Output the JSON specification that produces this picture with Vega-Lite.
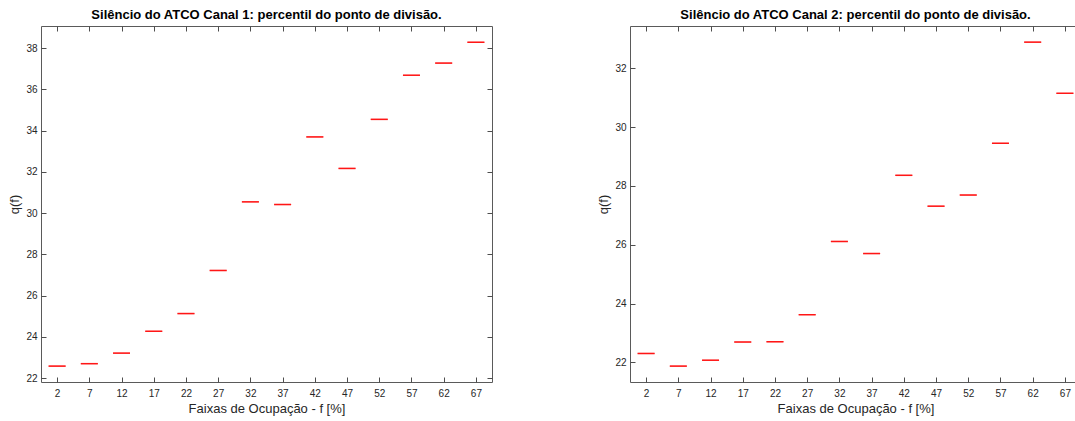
{
  "$schema": "https://vega.github.io/schema/vega-lite/v6.json",
  "padding": {"left": 8, "top": 8, "right": 0, "bottom": 0},
  "background": "white",
  "spacing": 138,
  "bounds": "flush",
  "config": {
    "view": {"stroke": "#5a5a5a", "strokeWidth": 1},
    "font": "Liberation Sans",
    "tick": {"color": "#ff0000", "size": 17, "thickness": 1.4, "orient": "horizontal"},
    "axis": {
      "domain": false,
      "grid": false,
      "tickSize": -5,
      "tickColor": "#4d4d4d",
      "tickWidth": 1,
      "labelFont": "Liberation Sans",
      "labelFontSize": 10,
      "labelColor": "#262626",
      "titleFont": "Liberation Sans",
      "titleFontSize": 13,
      "titleFontWeight": "normal",
      "titleColor": "#262626"
    },
    "title": {"font": "Liberation Sans", "fontSize": 13, "fontWeight": "bold", "color": "#000000", "anchor": "middle", "frame": "group", "offset": 4}
  },
  "datasets": {
    "c1": [
      {"f": 2, "q": 22.58}, {"f": 7, "q": 22.70}, {"f": 12, "q": 23.21}, {"f": 17, "q": 24.27},
      {"f": 22, "q": 25.13}, {"f": 27, "q": 27.22}, {"f": 32, "q": 30.55}, {"f": 37, "q": 30.42},
      {"f": 42, "q": 33.70}, {"f": 47, "q": 32.17}, {"f": 52, "q": 34.55}, {"f": 57, "q": 36.69},
      {"f": 62, "q": 37.28}, {"f": 67, "q": 38.29}
    ],
    "c2": [
      {"f": 2, "q": 22.30}, {"f": 7, "q": 21.87}, {"f": 12, "q": 22.07}, {"f": 17, "q": 22.69},
      {"f": 22, "q": 22.70}, {"f": 27, "q": 23.62}, {"f": 32, "q": 26.11}, {"f": 37, "q": 25.70},
      {"f": 42, "q": 28.36}, {"f": 47, "q": 27.31}, {"f": 52, "q": 27.69}, {"f": 57, "q": 29.45},
      {"f": 62, "q": 32.89}, {"f": 67, "q": 31.15}
    ]
  },
  "hconcat": [
    {
      "width": 451,
      "height": 356,
      "title": {"text": "Silêncio do ATCO Canal 1: percentil do ponto de divisão."},
      "data": {"name": "c1"},
      "layer": [
        {
          "mark": {"type": "tick", "color": "#ff0000"},
          "encoding": {
            "x": {"field": "f", "type": "ordinal", "scale": {"type": "point", "padding": 0.5}, "axis": {"orient": "bottom", "labelAngle": 0, "labelPadding": 11, "title": "Faixas de Ocupação - f [%]", "titlePadding": 4}},
            "y": {"field": "q", "type": "quantitative", "scale": {"domain": [21.81, 39.08], "nice": false, "zero": false}, "axis": {"orient": "left", "values": [22, 24, 26, 28, 30, 32, 34, 36, 38], "labelPadding": 9, "title": "q(f)", "titlePadding": 4}}
          }
        },
        {
          "mark": {"type": "tick", "color": "#ff0000"},
          "encoding": {
            "x": {"field": "f", "type": "ordinal", "scale": {"type": "point", "padding": 0.5}, "axis": {"orient": "top", "labels": false, "title": null}},
            "y": {"field": "q", "type": "quantitative", "axis": {"orient": "right", "values": [22, 24, 26, 28, 30, 32, 34, 36, 38], "labels": false, "title": null}}
          }
        }
      ],
      "resolve": {"axis": {"x": "independent", "y": "independent"}}
    },
    {
      "width": 451,
      "height": 356,
      "title": {"text": "Silêncio do ATCO Canal 2: percentil do ponto de divisão."},
      "data": {"name": "c2"},
      "layer": [
        {
          "mark": {"type": "tick", "color": "#ff0000"},
          "encoding": {
            "x": {"field": "f", "type": "ordinal", "scale": {"type": "point", "padding": 0.5}, "axis": {"orient": "bottom", "labelAngle": 0, "labelPadding": 11, "title": "Faixas de Ocupação - f [%]", "titlePadding": 4}},
            "y": {"field": "q", "type": "quantitative", "scale": {"domain": [21.33, 33.44], "nice": false, "zero": false}, "axis": {"orient": "left", "values": [22, 24, 26, 28, 30, 32], "labelPadding": 9, "title": "q(f)", "titlePadding": 4}}
          }
        },
        {
          "mark": {"type": "tick", "color": "#ff0000"},
          "encoding": {
            "x": {"field": "f", "type": "ordinal", "scale": {"type": "point", "padding": 0.5}, "axis": {"orient": "top", "labels": false, "title": null}},
            "y": {"field": "q", "type": "quantitative", "axis": {"orient": "right", "values": [22, 24, 26, 28, 30, 32], "labels": false, "title": null}}
          }
        }
      ],
      "resolve": {"axis": {"x": "independent", "y": "independent"}}
    }
  ]
}
